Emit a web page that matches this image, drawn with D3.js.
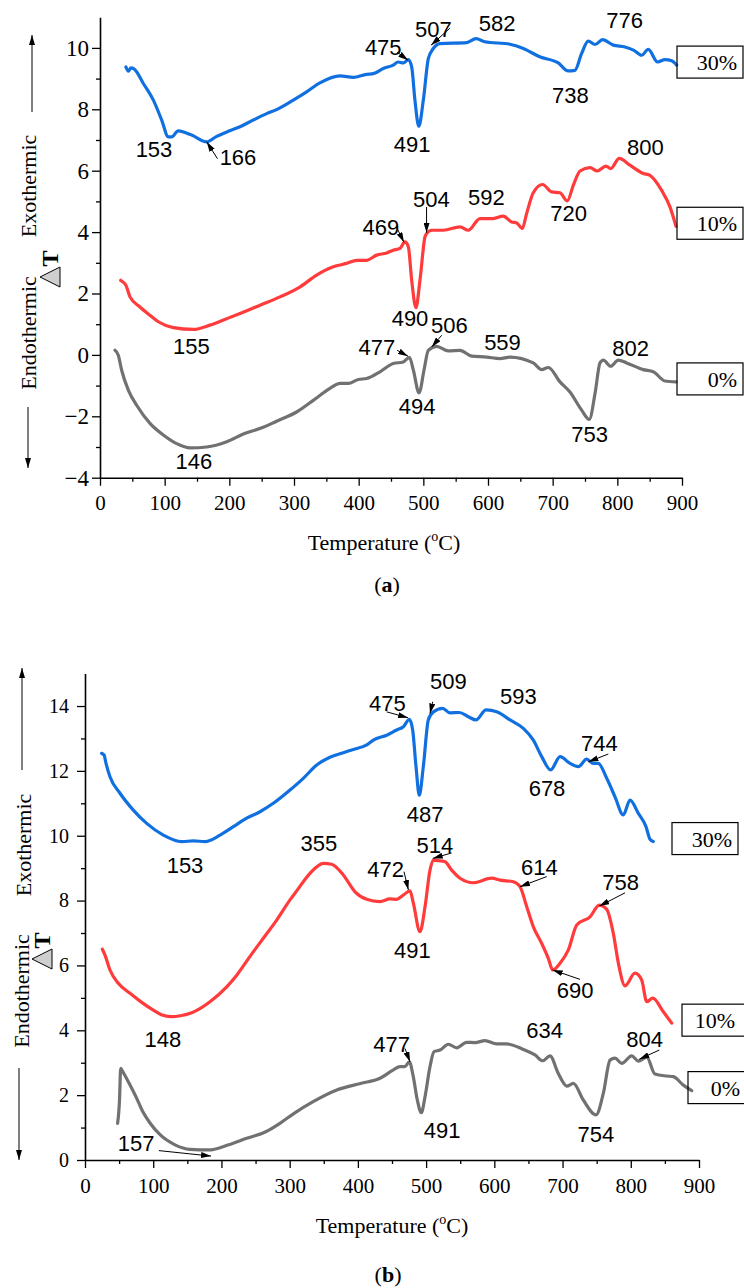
<!DOCTYPE html>
<html>
<head>
<meta charset="utf-8">
<script src="https://cdn.jsdelivr.net/npm/d3@7"></script>
<style>
  body { margin: 0; background: #fff; }
</style>
</head>
<body>
<div id="chart"></div>
<script>
// ---------- data (temperature in °C, ΔT) ----------
var tempTicks = d3.range(0, 901, 100);
var tempMinor = d3.range(50, 901, 100);

// panel (a)
var a30 = [[40,9.38],[44,9.24],[47.5,9.35],[52.6,9.32],[67,8.84],[82.5,8.30],[95.4,7.65],[105.7,7.10],[110.8,7.10],[121,7.30],[141.7,7.16],[165,6.94],[180.4,7.12],[195.9,7.26],[216.5,7.43],[237,7.65],[257.7,7.86],[273,7.99],[298.9,8.30],[319.5,8.57],[340,8.86],[371,9.09],[391.7,9.04],[412.3,9.14],[422.6,9.16],[438,9.33],[453.5,9.44],[461,9.54],[469,9.51],[476.8,9.62],[482,9.38],[487,8.30],[493,7.45],[500,8.30],[507.7,9.65],[515.4,9.98],[525.7,10.14],[567,10.17],[581.4,10.30],[595,10.2],[634,10.12],[654.6,9.98],[680,9.71],[708.7,9.51],[724,9.25],[734.5,9.27],[744.8,9.82],[755,10.22],[765.5,10.11],[777.2,10.27],[793.7,10.09],[811.8,10.03],[825.7,9.92],[837.5,9.76],[847.8,9.95],[862.3,9.54],[873.6,9.62],[884,9.58],[891.7,9.44]];
var a10 = [[32,2.43],[37,2.35],[40,2.27],[46.4,1.89],[61.9,1.56],[77.3,1.29],[90.2,1.08],[113.4,0.89],[144.3,0.83],[170,0.97],[196,1.18],[216.5,1.35],[247.4,1.62],[278.3,1.89],[309,2.21],[335,2.60],[360.8,2.87],[381.4,2.98],[397,3.08],[412,3.08],[427.9,3.25],[443.3,3.32],[453.5,3.41],[463.9,3.47],[471.6,3.68],[476.8,3.52],[482,2.43],[488.6,1.54],[494.8,2.43],[502.5,3.84],[505,3.95],[512.8,4.06],[531,4.06],[556.7,4.17],[569.5,4.06],[587.6,4.44],[608,4.44],[623.6,4.52],[636.5,4.33],[644.3,4.30],[653,4.12],[659.8,4.61],[670,5.28],[684.4,5.55],[698.4,5.31],[711.3,5.28],[722.6,5.02],[732,5.53],[742.3,5.99],[757.7,6.10],[769,5.99],[782.4,6.15],[789.7,6.07],[803,6.40],[819.5,6.18],[840,5.91],[850.5,5.85],[868.5,5.36],[881.4,4.82],[890.7,4.19]];
var a0 = [[23.2,0.15],[28.3,-0.01],[33.5,-0.50],[43.8,-1.15],[56.7,-1.64],[77.3,-2.23],[97.9,-2.61],[118.6,-2.89],[139.2,-3.03],[165,-3.00],[196,-2.83],[221.6,-2.58],[252.5,-2.36],[273,-2.16],[304,-1.86],[329.8,-1.48],[355.6,-1.09],[371,-0.93],[384,-0.93],[399.5,-0.80],[412.3,-0.77],[433,-0.55],[453.5,-0.28],[469,-0.23],[478.4,-0.08],[484.6,-0.50],[493.4,-1.24],[501,-0.50],[507.7,0.15],[520.6,0.28],[538.6,0.13],[556.7,0.15],[574.7,-0.04],[598,-0.07],[618.5,-0.12],[634,-0.07],[670,-0.26],[683,-0.48],[693.3,-0.41],[711.3,-0.88],[726.7,-1.21],[744.8,-1.80],[756.6,-2.10],[765.5,-1.26],[773.2,-0.26],[778.4,-0.17],[789.7,-0.37],[801.5,-0.17],[814.4,-0.26],[840,-0.48],[855.6,-0.55],[873.7,-0.85],[890.7,-0.88]];

var peaksA = [["153",83.5,6.44],["166",213.4,6.18],["475",438,9.76],["507",515.4,10.36],["582",614,10.55],["491",482.5,6.61],["738",727.5,8.21],["776",811.3,10.66],
  ["469",434.3,3.90],["504",512.3,4.82],["592",597.6,4.88],["720",724.7,4.37],["800",843.3,6.50],["155",141.2,0.02],
  ["146",145,-3.73],["490",479.4,0.93],["506",540.4,0.70],["477",428.3,-0.01],["494",490.5,-1.93],["559",622.4,0.15],["753",757,-2.83],["802",820.7,-0.04]];
// pointer arrows: tail T, tail ΔT, tip T, tip ΔT
var arrowsA = [[181.7,6.39,165,6.94],[459.5,9.86,476.5,9.6],[541,10.64,512,10.09],[459.5,4.12,470,3.67],[505,4.82,505,3.98],[528.4,0.64,513,0.26],[459.5,0.15,476.3,-0.04]];

// panel (b)
var b30 = [[24.4,12.54],[27.9,12.49],[30.8,12.23],[36.6,11.82],[51.3,11.31],[70.8,10.79],[90.4,10.38],[114.8,10.02],[141.7,9.82],[158.8,9.84],[175.9,9.82],[197.9,10.02],[217.4,10.28],[237,10.54],[256.5,10.74],[276,11.0],[300.5,11.41],[320,11.77],[339.6,12.18],[359,12.42],[378.6,12.56],[393.3,12.66],[413,12.80],[422.6,12.95],[442.2,13.1],[456.9,13.26],[466.6,13.36],[475.4,13.59],[480.3,13.26],[485.2,12.13],[490,11.25],[495.9,12.13],[503.2,13.57],[510.6,13.82],[524.3,13.93],[535,13.79],[548.7,13.80],[561.9,13.67],[573.2,13.57],[587.8,13.88],[603.5,13.82],[623,13.57],[642.5,13.31],[657.2,12.95],[669.4,12.44],[682.6,12.03],[696.3,12.44],[711,12.23],[723.1,12.13],[735.4,12.36],[745.1,12.23],[752.4,12.23],[764.7,11.77],[776.9,11.20],[789,10.64],[798.9,11.10],[811.1,10.69],[822.3,10.28],[828.2,9.89],[833,9.82]];
var b10 = [[25.4,6.50],[29.3,6.32],[36.6,5.86],[48.8,5.45],[66,5.14],[83.1,4.86],[100.1,4.62],[112,4.48],[126,4.42],[140,4.45],[156.4,4.54],[183.2,4.88],[207.7,5.34],[222.4,5.70],[241.9,6.28],[261.4,6.84],[281,7.40],[300.5,8.02],[310.3,8.30],[329.8,8.84],[349.3,9.15],[361.6,9.12],[378.6,8.79],[395.8,8.27],[412.9,8.04],[432.4,7.97],[447,8.05],[456.9,8.04],[466.6,8.17],[476.4,8.30],[481.3,7.92],[491,7.04],[498.4,7.81],[505.7,8.94],[510.6,9.25],[517.9,9.23],[527.7,9.20],[537.5,8.94],[549.7,8.69],[569.2,8.55],[596.2,8.69],[608.3,8.63],[627.8,8.58],[637.6,8.43],[647.5,7.81],[657.2,7.19],[669.4,6.68],[679.1,6.22],[685.5,5.86],[696.3,6.07],[708.5,6.48],[720.8,7.25],[740.3,7.50],[753.9,7.86],[764.7,7.73],[774.4,6.99],[781.8,6.07],[791.6,5.37],[806.2,5.76],[816,5.55],[823.4,4.88],[832.2,4.99],[847.7,4.57],[860,4.22]];
var b0 = [[47.8,1.13],[50.6,1.85],[52.3,2.83],[55.5,2.72],[66,2.31],[75.8,1.90],[84,1.52],[95,1.15],[110,0.78],[132.7,0.46],[153.6,0.33],[181.4,0.31],[209.2,0.46],[237,0.67],[264.9,0.87],[285.7,1.13],[306.5,1.44],[334.4,1.80],[369.1,2.16],[403.9,2.36],[432.4,2.52],[452,2.78],[461.7,2.88],[469,2.88],[475.4,3.03],[481.2,2.57],[487.1,1.85],[493,1.46],[498.4,1.95],[505.7,2.88],[511.6,3.34],[520.4,3.39],[532.5,3.57],[544.9,3.46],[559.5,3.63],[571.7,3.62],[586.3,3.68],[603.5,3.58],[618.2,3.58],[642.5,3.41],[659.6,3.24],[670.9,3.06],[681.6,3.21],[693.8,2.67],[706.1,2.28],[715.8,2.36],[730.4,1.85],[749.1,1.39],[759.8,2.06],[769.6,3.08],[776.9,3.14],[786.7,2.98],[801.4,3.21],[811.1,3.05],[823.4,3.17],[835.5,2.65],[852.7,2.59],[862.4,2.57],[877,2.31],[889.3,2.14]];

var peaksB = [["153",146.6,8.86],["355",342.7,9.53],["472",440.5,8.74],["491",480,6.22],["475",443.2,13.85],["509",532.6,14.54],["593",635.2,14.06],["487",498.4,10.43],
  ["678",677.2,11.22],["744",753.9,12.62],["514",513,9.48],["614",666,8.79],["758",785,8.33],["690",718.3,4.99],["148",114.3,3.49],
  ["157",74.8,0.28],["477",449.6,3.34],["491",523.6,0.67],["634",673.6,3.75],["754",748.8,0.56],["804",820.2,3.47]];
var arrowsB = [[467.6,8.89,474,8.33],[442.2,13.82,473.5,13.64],[509.6,14.13,505.7,13.77],[767.1,12.52,737.8,12.28],[537.5,9.47,509.7,9.30],[676.8,8.74,637.6,8.43],[791.6,8.24,753.9,7.83],[725.6,5.57,685.5,5.86],[108.3,0.29,184.8,0.12],[469,3.44,476.4,3.03],[841.8,3.39,812.5,3.11]];

var contents = ["30%", "10%", "0%"];
var colors = ["#1170e0", "#ff3b3b", "#717171"];

// ---------- layout ----------
var serif = "'Liberation Serif', 'Times New Roman', serif";
var sans = "'Liberation Sans', Arial, sans-serif";

var svg = d3.select("#chart").append("svg")
    .attr("width", 744)
    .attr("height", 1288);

svg.append("defs").append("marker")
    .attr("id", "head")
    .attr("markerUnits", "userSpaceOnUse")
    .attr("viewBox", "0 0 10 6")
    .attr("refX", 10).attr("refY", 3)
    .attr("markerWidth", 10).attr("markerHeight", 6)
    .attr("orient", "auto")
  .append("path")
    .attr("d", "M0,0L10,3L0,6Z")
    .attr("fill", "#000");

var panels = [
  { series: [a30, a10, a0], peaks: peaksA, arrows: arrowsA,
    xRange: [100, 682], yDomain: [-4, 11], yRange: [477.7, 17.2],
    yMajor: d3.range(-4, 11, 2), yMinor: d3.range(-3, 10, 2),
    yFont: 23, xFont: 21, yPad: 3, xPad: 9,
    boxX: [677, 677, 677], boxTextX: [60, 60, 60],
    exo: [28, 186], endo: [28, 333], dT: [50, 270],
    up: [32, 112, 35], down: [28, 407, 468],
    title: [384, 550], cap: [387, 592], capLetter: "a" },
  { series: [b30, b10, b0], peaks: peaksB, arrows: arrowsB,
    xRange: [85, 699], yDomain: [0, 15], yRange: [1160, 673.6],
    yMajor: d3.range(0, 15, 2), yMinor: d3.range(1, 14, 2),
    yFont: 20, xFont: 21, yPad: 8, xPad: 10,
    boxX: [672, 682, 688], boxTextX: [60, 53, 52],
    exo: [23, 845], endo: [21, 991], dT: [42, 952],
    up: [22, 770, 668], down: [19, 1068, 1160],
    title: [392, 1233], cap: [388, 1282], capLetter: "b" }
];

panels.forEach(drawPanel);

function drawPanel(p) {
  var x = d3.scaleLinear().domain([0, 900]).range(p.xRange);
  var y = d3.scaleLinear().domain(p.yDomain).range(p.yRange);
  var g = svg.append("g");
  var y0 = p.yRange[0];

  // axes (minor ticks first, then major with labels)
  g.append("g")
      .attr("transform", "translate(0," + y0 + ")")
      .call(d3.axisBottom(x).tickValues(tempMinor).tickSize(4).tickSizeOuter(0).tickFormat(""))
      .call(function (s) { s.select(".domain").remove(); });
  var xa = g.append("g")
      .attr("transform", "translate(0," + y0 + ")")
      .call(d3.axisBottom(x).tickValues(tempTicks).tickSize(8).tickSizeOuter(0).tickPadding(p.xPad));
  g.append("g")
      .attr("transform", "translate(" + p.xRange[0] + ",0)")
      .call(d3.axisLeft(y).tickValues(p.yMinor).tickSize(4).tickSizeOuter(0).tickFormat(""))
      .call(function (s) { s.select(".domain").remove(); });
  var ya = g.append("g")
      .attr("transform", "translate(" + p.xRange[0] + ",0)")
      .call(d3.axisLeft(y).tickValues(p.yMajor).tickSize(8).tickSizeOuter(0).tickPadding(p.yPad));

  g.selectAll(".domain").attr("stroke", "#000").attr("stroke-width", 1.6);
  g.selectAll(".tick line").attr("stroke", "#000").attr("stroke-width", 1.3);
  xa.selectAll("text").attr("font-family", serif).attr("font-size", p.xFont).attr("fill", "#000");
  ya.selectAll("text").attr("font-family", serif).attr("font-size", p.yFont).attr("fill", "#000");

  // curves
  var line = d3.line()
      .x(function (d) { return x(d[0]); })
      .y(function (d) { return y(d[1]); })
      .curve(d3.curveMonotoneX);

  p.series.forEach(function (s, i) {
    g.append("path")
        .datum(s)
        .attr("d", line)
        .attr("fill", "none")
        .attr("stroke", colors[i])
        .attr("stroke-width", 3.2)
        .attr("stroke-linejoin", "round")
        .attr("stroke-linecap", "round");

    var last = s[s.length - 1];
    var cy = y(last[1]) - 3;
    g.append("rect")
        .attr("x", p.boxX[i]).attr("y", cy - 16)
        .attr("width", 66).attr("height", 32)
        .attr("fill", "none").attr("stroke", "#000").attr("stroke-width", 1.2);
    g.append("text")
        .attr("x", p.boxX[i] + p.boxTextX[i]).attr("y", cy + 8)
        .attr("text-anchor", "end")
        .attr("font-family", serif).attr("font-size", 22)
        .text(contents[i]);
  });

  // peak temperatures
  g.selectAll(".peak")
      .data(p.peaks)
      .enter().append("text")
      .attr("x", function (d) { return x(d[1]); })
      .attr("y", function (d) { return y(d[2]); })
      .attr("text-anchor", "middle")
      .attr("font-family", sans)
      .attr("font-size", 22)
      .text(function (d) { return d[0]; });

  g.selectAll(".ptr")
      .data(p.arrows)
      .enter().append("line")
      .attr("x1", function (d) { return x(d[0]); })
      .attr("y1", function (d) { return y(d[1]); })
      .attr("x2", function (d) { return x(d[2]); })
      .attr("y2", function (d) { return y(d[3]); })
      .attr("stroke", "#000")
      .attr("stroke-width", 1)
      .attr("marker-end", "url(#head)");

  // y title: Endothermic  ΔT  Exothermic with arrows
  g.append("text")
      .attr("transform", "translate(" + p.exo[0] + "," + p.exo[1] + ") rotate(-90)")
      .attr("text-anchor", "middle").attr("dy", "0.35em")
      .attr("font-family", serif).attr("font-size", 22)
      .text("Exothermic");
  g.append("text")
      .attr("transform", "translate(" + p.endo[0] + "," + p.endo[1] + ") rotate(-90)")
      .attr("text-anchor", "middle").attr("dy", "0.35em")
      .attr("font-family", serif).attr("font-size", 22)
      .text("Endothermic");
  var dt = g.append("g")
      .attr("transform", "translate(" + p.dT[0] + "," + p.dT[1] + ") rotate(-90)");
  dt.append("path")
      .attr("d", "M-17,10L3,10L-7,-10Z")
      .attr("fill", "#cfcfcf").attr("stroke", "#000").attr("stroke-width", 1);
  dt.append("text")
      .attr("x", 11.5).attr("y", 0).attr("dy", "0.35em")
      .attr("text-anchor", "middle")
      .attr("font-family", serif).attr("font-weight", "bold").attr("font-size", 24)
      .text("T");
  g.append("line")
      .attr("x1", p.up[0]).attr("y1", p.up[1]).attr("x2", p.up[0]).attr("y2", p.up[2])
      .attr("stroke", "#000").attr("stroke-width", 1).attr("marker-end", "url(#head)");
  g.append("line")
      .attr("x1", p.down[0]).attr("y1", p.down[1]).attr("x2", p.down[0]).attr("y2", p.down[2])
      .attr("stroke", "#000").attr("stroke-width", 1).attr("marker-end", "url(#head)");

  // x title and caption
  var t = g.append("text")
      .attr("x", p.title[0]).attr("y", p.title[1])
      .attr("text-anchor", "middle")
      .attr("font-family", serif).attr("font-size", 22);
  t.append("tspan").text("Temperature (");
  t.append("tspan").attr("font-size", 14).attr("dy", -9).text("o");
  t.append("tspan").attr("dy", 9).text("C)");

  var c = g.append("text")
      .attr("x", p.cap[0]).attr("y", p.cap[1])
      .attr("text-anchor", "middle")
      .attr("font-family", serif).attr("font-size", 22);
  c.append("tspan").text("(");
  c.append("tspan").attr("font-weight", "bold").text(p.capLetter);
  c.append("tspan").text(")");
}
</script>
</body>
</html>
